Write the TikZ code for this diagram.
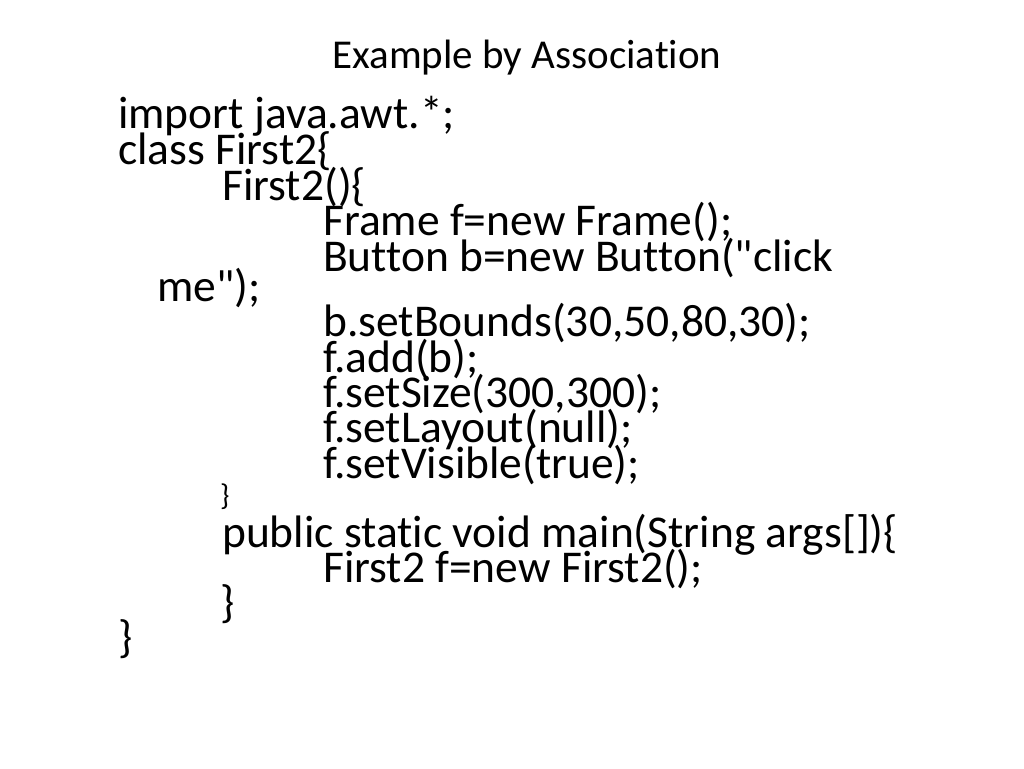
\documentclass[tikz,border=0pt]{standalone}
\usepackage{fontspec}
\setmainfont[Ligatures=NoCommon]{Carlito}
\usetikzlibrary{positioning}
\tikzset{
  codeline/.style={anchor=base west, inner sep=0pt, font=\fontsize{45.5}{50}\selectfont},
  smallbrace/.style={anchor=base west, inner sep=0pt, font=\fontsize{30}{34}\selectfont},
  titletext/.style={anchor=base, inner sep=0pt, font=\fontsize{41}{46}\selectfont}
}
\begin{document}
\begin{tikzpicture}[x=1pt,y=-1pt]
  \useasboundingbox (0,0) rectangle (1024,768);
  \node[titletext] (Title) at (527,68) {Example by Association};

  \node[codeline] (Import) at (118,128) {import java.awt.*;};
  \node[codeline] (Class) at (118,164) {class First2\{};
  \node[codeline] (Ctor) at (222,200) {First2()\{};
  \node[codeline] (Frame) at (323,235) {Frame f=new Frame();};
  \node[codeline] (Button) at (323,271) {Button b=new Button(\textquotedbl click};
  \node[codeline] (Me) at (157,301) {me\textquotedbl);};
  \node[codeline] (Bounds) at (323,336) {b.setBounds(30,50,80,30);};
  \node[codeline] (Add) at (323,372) {f.add(b);};
  \node[codeline] (Size) at (323,407) {f.setSize(300,300);};
  \node[codeline] (Layout) at (323,442) {f.setLayout(null);};
  \node[codeline] (Visible) at (323,478) {f.setVisible(true);};
  \node[smallbrace] (CtorEnd) at (220,505) {\}};
  \node[codeline] (Main) at (222,547) {public static void main(String args[])\{};
  \node[codeline] (Obj) at (323,582) {First2 f=new First2();};
  \node[codeline] (MainEnd) at (220,617) {\}};
  \node[codeline] (ClassEnd) at (118,652) {\}};
\end{tikzpicture}
\end{document}
